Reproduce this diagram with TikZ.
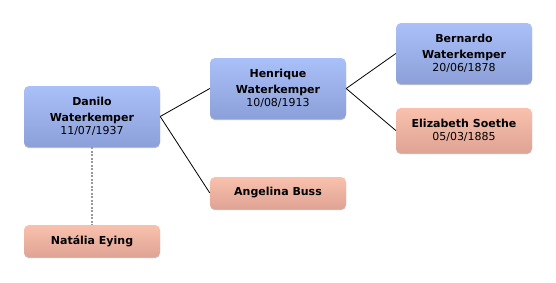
\documentclass[tikz,border=0pt]{standalone}
\usepackage{fontspec}
\setmainfont{DejaVu Sans}
\usetikzlibrary{shadows}
\definecolor{bluetop}{HTML}{AAC0F8}
\definecolor{bluebot}{HTML}{8C9FD8}
\definecolor{redtop}{HTML}{F9C1AD}
\definecolor{redbot}{HTML}{DFA393}
\tikzset{
  person/.style={rounded corners=5pt, minimum width=136pt, inner sep=0pt, align=center,
    font=\fontsize{11}{16}\selectfont\bfseries,
    drop shadow={shadow xshift=0pt, shadow yshift=-1.2pt, opacity=0.25, fill=black}},
  male/.style={person, top color=bluetop, bottom color=bluebot, minimum height=61pt},
  female/.style={person, top color=redtop, bottom color=redbot},
  link/.style={line width=0.8pt, black},
  spouse/.style={line width=1.3pt, gray!80, dash pattern=on 2pt off 1.5pt}
}
\newcommand{\dt}[1]{\\[-3.3pt]{\mdseries #1}}
\begin{document}
\begin{tikzpicture}[x=1pt,y=-1pt]
\useasboundingbox (0,0) rectangle (556,282);
\node[male] (danilo) at (92,116.5) {Danilo\\Waterkemper\dt{11/07/1937}};
\node[female, minimum height=32pt] (natalia) at (92,241) {Natália Eying};
\node[male] (henrique) at (278,88.5) {Henrique\\Waterkemper\dt{10/08/1913}};
\node[female, minimum height=32pt] (angelina) at (278,193) {Angelina Buss};
\node[male] (bernardo) at (464,53.5) {Bernardo\\Waterkemper\dt{20/06/1878}};
\node[female, minimum height=45pt] (elizabeth) at (464,130.5) {Elizabeth Soethe\dt{05/03/1885}};
\draw[link] (danilo.east) -- (henrique.west);
\draw[link] (danilo.east) -- (angelina.west);
\draw[link] (henrique.east) -- (bernardo.west);
\draw[link] (henrique.east) -- (elizabeth.west);
\draw[spouse] (danilo.south) -- (natalia.north);
\end{tikzpicture}
\end{document}
